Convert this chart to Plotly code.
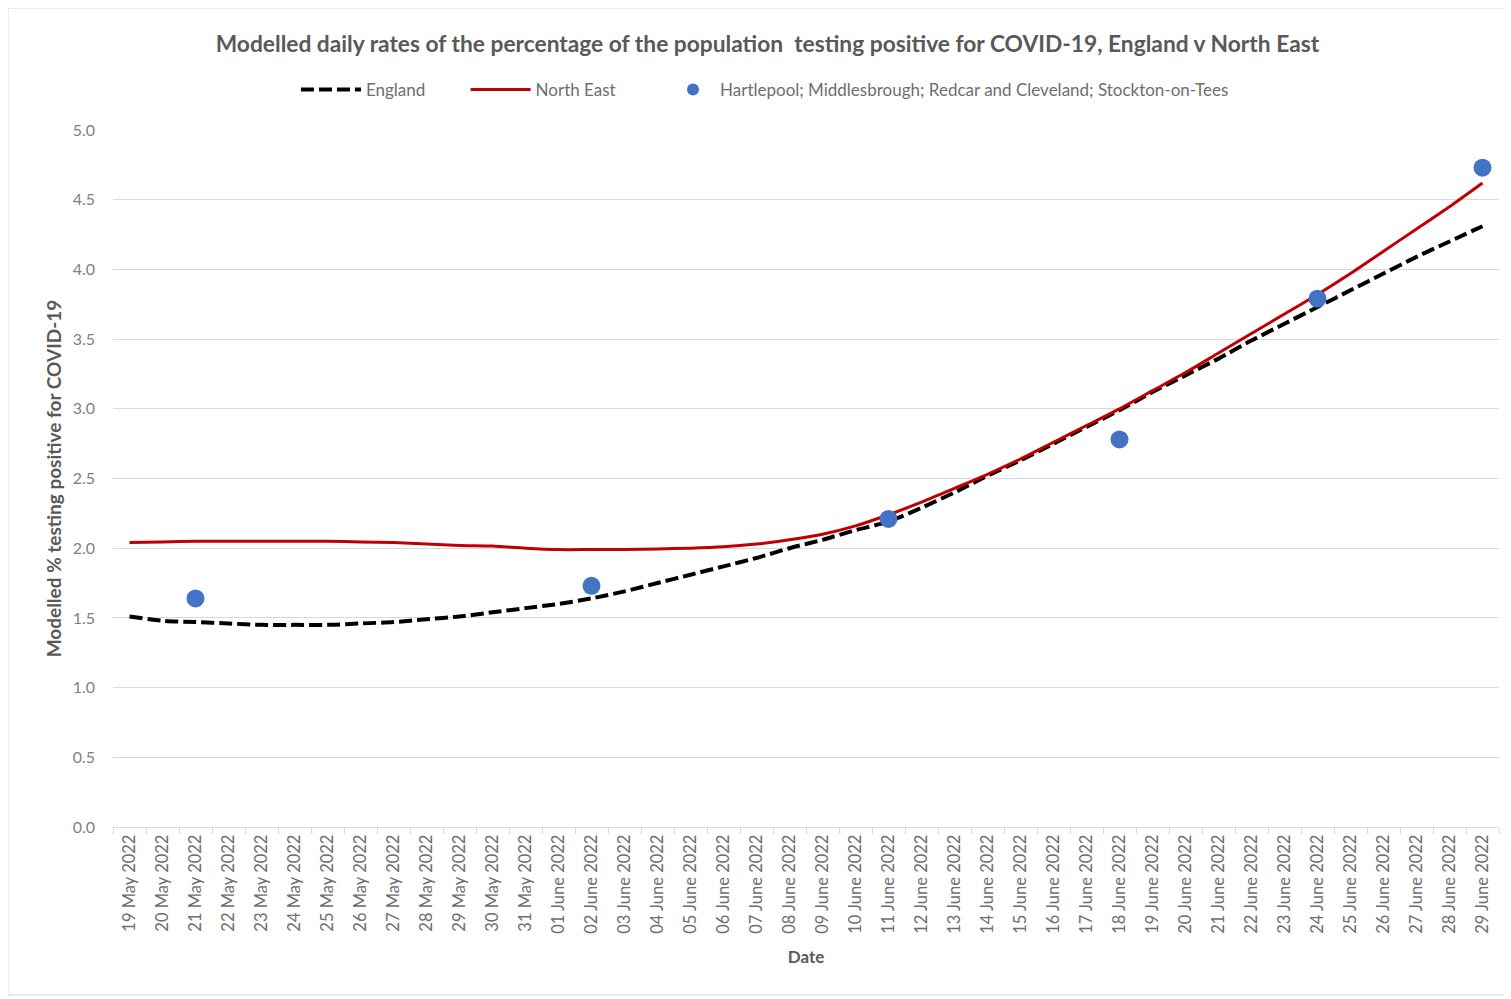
import plotly.graph_objects as go

dates = ["19 May 2022", "20 May 2022", "21 May 2022", "22 May 2022", "23 May 2022", "24 May 2022",
         "25 May 2022", "26 May 2022", "27 May 2022", "28 May 2022", "29 May 2022", "30 May 2022",
         "31 May 2022", "01 June 2022", "02 June 2022", "03 June 2022", "04 June 2022", "05 June 2022",
         "06 June 2022", "07 June 2022", "08 June 2022", "09 June 2022", "10 June 2022", "11 June 2022",
         "12 June 2022", "13 June 2022", "14 June 2022", "15 June 2022", "16 June 2022", "17 June 2022",
         "18 June 2022", "19 June 2022", "20 June 2022", "21 June 2022", "22 June 2022", "23 June 2022",
         "24 June 2022", "25 June 2022", "26 June 2022", "27 June 2022", "28 June 2022", "29 June 2022"]

england = [1.51, 1.48, 1.47, 1.46, 1.45, 1.45, 1.45, 1.46, 1.47, 1.49, 1.51, 1.54,
           1.57, 1.60, 1.64, 1.69, 1.75, 1.81, 1.87, 1.93, 2.00, 2.06, 2.13, 2.19,
           2.29, 2.40, 2.52, 2.63, 2.75, 2.87, 2.99, 3.12, 3.24, 3.36, 3.49, 3.61,
           3.73, 3.85, 3.97, 4.09, 4.20, 4.31]

north_east = [2.04, 2.045, 2.05, 2.05, 2.05, 2.05, 2.05, 2.045, 2.04, 2.03, 2.02, 2.015,
              2.00, 1.99, 1.99, 1.99, 1.995, 2.00, 2.01, 2.03, 2.06, 2.10, 2.16, 2.24,
              2.33, 2.43, 2.53, 2.64, 2.76, 2.88, 3.00, 3.13, 3.26, 3.40, 3.54, 3.68,
              3.82, 3.97, 4.13, 4.29, 4.45, 4.62]

tees_dates = ["21 May 2022", "02 June 2022", "11 June 2022", "18 June 2022", "24 June 2022", "29 June 2022"]
tees_values = [1.64, 1.73, 2.21, 2.78, 3.79, 4.73]

y_ticks = [0.0, 0.5, 1.0, 1.5, 2.0, 2.5, 3.0, 3.5, 4.0, 4.5, 5.0]

FONT = "Lato"
GREY = "#595959"
LIGHT = "#6e6e6e"

fig = go.Figure()
fig.add_trace(go.Scatter(x=dates, y=england, name="England", mode="lines", legend="legend",
                         line=dict(color="black", width=4, dash="13px,5px", shape="spline", smoothing=0.7)))
fig.add_trace(go.Scatter(x=dates, y=north_east, name="North East", mode="lines", legend="legend2",
                         line=dict(color="#C00000", width=3, shape="spline", smoothing=0.7)))
fig.add_trace(go.Scatter(x=tees_dates, y=tees_values, legend="legend3",
                         name="Hartlepool; Middlesbrough; Redcar and Cleveland; Stockton-on-Tees",
                         mode="markers", marker=dict(color="#4472C4", size=18)))

leg_common = dict(orientation="h", y=1.0574, yanchor="middle", xanchor="left",
                  font=dict(family=FONT, size=17, color=LIGHT), bgcolor="rgba(0,0,0,0)")

fig.update_layout(
    width=1503, height=991,
    margin=dict(l=105, r=12, t=122, b=172),
    paper_bgcolor="white", plot_bgcolor="white",
    font=dict(family=FONT, color=GREY),
    title=dict(text="<b>Modelled daily rates of the percentage of the population  testing positive for COVID-19, England v North East</b>",
               x=0.5053, xanchor="center", y=0.9637, yanchor="middle",
               font=dict(family=FONT, size=22.75, color=GREY)),
    legend=dict(leg_common, x=0.1320, itemwidth=60),
    legend2=dict(leg_common, x=0.2544, itemwidth=60),
    legend3=dict(leg_common, x=0.399, itemwidth=44, itemsizing="constant"),
    showlegend=True,
)
fig.update_xaxes(type="category", categoryorder="array", categoryarray=dates,
                 range=[-0.5, len(dates) - 0.5], tickson="boundaries",
                 ticks="outside", ticklen=6, tickcolor="#d9d9d9",
                 showline=True, linecolor="#d9d9d9", linewidth=1, showgrid=False,
                 tickangle=-90, tickfont=dict(family=FONT, size=16.5, color=LIGHT),
                 title=dict(text="<b>Date</b>", font=dict(family=FONT, size=17, color=GREY), standoff=18))
fig.update_yaxes(range=[0, 5], tickvals=y_ticks, ticktext=[f"{v:.1f}" for v in y_ticks],
                 showgrid=True, gridcolor="#d9d9d9", gridwidth=1, zeroline=False,
                 showline=False, tickfont=dict(family=FONT, size=16, color="#7f7f7f"),
                 ticks="", ticklabelstandoff=17,
                 title=dict(text="<b>Modelled % testing positive for COVID-19</b>",
                            font=dict(family=FONT, size=19, color=GREY), standoff=6))
fig.add_shape(type="rect", xref="paper", yref="paper", x0=-0.0758, x1=1.0065, y0=-0.241, y1=1.175,
              line=dict(color="#d9d9d9", width=1), fillcolor="rgba(0,0,0,0)", layer="below")

fig.write_html("out.html")
